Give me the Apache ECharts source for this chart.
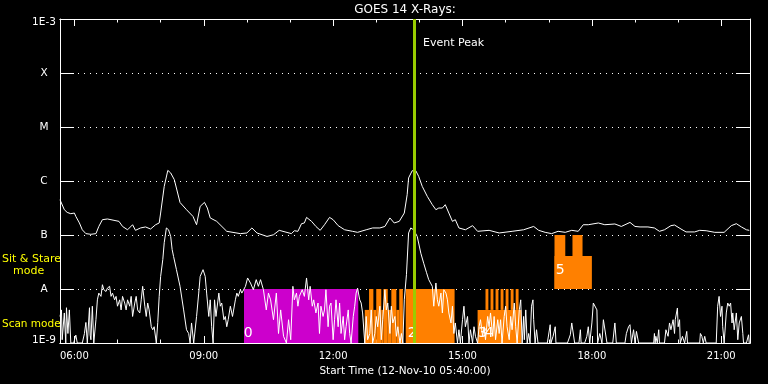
<!DOCTYPE html>
<html><head><meta charset="utf-8">
<script src="https://cdn.jsdelivr.net/npm/echarts@6.0.0/dist/echarts.min.js"></script>
<style>html,body{margin:0;padding:0;background:#000;}#c{width:768px;height:384px;}</style>
</head><body><div id="c"></div>
<script>
// Start of the plotted interval, clock minutes (05:40)
const startClock = 340;
const spanMinutes = 960;
const majorTickLabels = ['06:00','09:00','12:00','15:00','18:00','21:00'];
const yTickLabels = ['1E-9','A','B','C','M','X','1E-3'];
const eventPeakMinute = 492.5;

// GOES long channel (1-8 A): [minutes after start, W/m^2]
const longChannel = [[0,4.5e-7],[6,2.94e-7],[10,2.62e-7],[15,2.48e-7],[20,2.55e-7],[22,2.21e-7],[27,1.67e-7],[31,1.25e-7],[36,1.06e-7],[43,1.03e-7],[50,1.06e-7],[54,1.44e-7],[59,1.92e-7],[66,1.98e-7],[82,1.79e-7],[87,1.44e-7],[94,1.25e-7],[101,1.55e-7],[105,1.22e-7],[112,1.35e-7],[119,1.41e-7],[126,1.29e-7],[133,1.55e-7],[138,1.67e-7],[140,2.55e-7],[145,7.94e-7],[150,1.57e-6],[154,1.41e-6],[159,1.06e-6],[167,4.0e-7],[176,2.94e-7],[185,2.21e-7],[190,1.55e-7],[195,3.39e-7],[201,4.02e-7],[205,3.16e-7],[209,2.07e-7],[218,1.79e-7],[232,1.17e-7],[251,1.06e-7],[260,1.09e-7],[267,1.35e-7],[274,1.09e-7],[288,9.4e-8],[297,1.01e-7],[305,1.22e-7],[322,1.06e-7],[326,1.2e-7],[331,1.17e-7],[336,1.62e-7],[340,1.67e-7],[343,2.12e-7],[350,1.79e-7],[356,1.44e-7],[362,1.22e-7],[368,1.55e-7],[375,2.12e-7],[380,1.92e-7],[387,1.49e-7],[396,1.25e-7],[407,1.17e-7],[414,1.12e-7],[426,1.25e-7],[435,1.35e-7],[445,1.35e-7],[452,1.44e-7],[459,2.07e-7],[465,1.67e-7],[472,1.79e-7],[479,2.55e-7],[483,5.57e-7],[485,1.14e-6],[490,1.55e-6],[495,1.55e-6],[499,1.22e-6],[504,7.94e-7],[511,5.19e-7],[518,3.64e-7],[523,2.94e-7],[527,3.16e-7],[532,3.16e-7],[536,3.64e-7],[541,2.55e-7],[546,1.79e-7],[550,1.92e-7],[555,1.35e-7],[564,1.25e-7],[574,1.49e-7],[581,1.17e-7],[597,1.22e-7],[611,1.09e-7],[629,1.17e-7],[645,1.25e-7],[659,1.44e-7],[666,1.22e-7],[675,1.12e-7],[684,1.06e-7],[693,1.17e-7],[703,1.12e-7],[712,1.22e-7],[721,1.17e-7],[728,1.55e-7],[735,1.55e-7],[749,1.67e-7],[758,1.55e-7],[772,1.6e-7],[781,1.44e-7],[793,1.71e-7],[800,1.44e-7],[807,1.41e-7],[818,1.41e-7],[827,1.35e-7],[834,1.17e-7],[841,1.25e-7],[850,1.49e-7],[855,1.53e-7],[864,1.29e-7],[871,1.14e-7],[883,1.14e-7],[890,1.22e-7],[899,1.2e-7],[911,1.12e-7],[924,1.12e-7],[934,1.49e-7],[941,1.62e-7],[948,1.41e-7],[955,1.25e-7],[959,1.22e-7]];

// GOES short channel (0.5-4 A): [minutes after start, W/m^2]
const shortChannel = [[0,3.1e-9],[2,4.1e-9],[3,1.15e-9],[6,3.6e-9],[8,1e-9],[9,4.5e-9],[11,1.5e-9],[13,4.1e-9],[15,1e-9],[19,1e-9],[22,1.4e-9],[24,1e-9],[31,1e-9],[34,1.5e-9],[36,2.4e-9],[38,1e-9],[41,4.5e-9],[42,1.4e-9],[43,1.15e-9],[45,4.8e-9],[47,1e-9],[50,2.7e-9],[52,6.3e-9],[54,8.4e-9],[57,7.3e-9],[59,1.2e-8],[61,9.7e-9],[64,9.0e-9],[66,1.04e-8],[69,1.12e-8],[71,7.3e-9],[73,8.4e-9],[76,6.3e-9],[78,7.3e-9],[80,4.8e-9],[83,6.3e-9],[85,4.1e-9],[87,7.3e-9],[90,5.5e-9],[92,4.1e-9],[94,6.3e-9],[97,4.8e-9],[99,7.3e-9],[101,3.1e-9],[104,5.5e-9],[106,7.3e-9],[108,4.1e-9],[111,3.6e-9],[113,6.3e-9],[115,1.12e-8],[118,4.8e-9],[120,3.1e-9],[122,5.5e-9],[124,4.1e-9],[127,2.0e-9],[129,1.76e-9],[131,2.0e-9],[134,1e-9],[136,2.4e-9],[138,7.3e-9],[140,1.71e-8],[143,3.5e-8],[145,7.2e-8],[148,1.35e-7],[151,1.25e-7],[154,9.4e-8],[156,5.4e-8],[158,4.0e-8],[162,2.28e-8],[167,1.12e-8],[172,4.1e-9],[176,1.76e-9],[179,1.5e-9],[181,1e-9],[183,2.35e-9],[186,1e-9],[190,3.1e-9],[193,8.4e-9],[195,1.71e-8],[199,2.28e-8],[202,1.71e-8],[204,8.4e-9],[207,3.1e-9],[209,6.3e-9],[211,2.0e-9],[213,1e-9],[215,6.3e-9],[217,3.1e-9],[221,8.4e-9],[223,4.8e-9],[225,5.5e-9],[228,2.7e-9],[230,3.1e-9],[232,2.0e-9],[234,2.7e-9],[237,4.8e-9],[240,3.1e-9],[244,6.3e-9],[246,8.4e-9],[248,7.3e-9],[251,9.7e-9],[253,8.4e-9],[258,1.12e-8],[261,1.6e-8],[265,1.29e-8],[269,9.7e-9],[273,1.49e-8],[276,1.12e-8],[279,1.49e-8],[283,9.7e-9],[287,4.1e-9],[290,8.4e-9],[293,6.3e-9],[297,2.7e-9],[301,8.4e-9],[304,1.5e-9],[307,4.1e-9],[311,1.33e-9],[315,1e-9],[318,2.7e-9],[321,1.15e-9],[324,1.12e-8],[326,6.3e-9],[329,8.4e-9],[331,4.8e-9],[333,7.3e-9],[337,9.7e-9],[340,7.3e-9],[343,1.6e-8],[346,6.3e-9],[348,1.12e-8],[351,4.8e-9],[353,6.3e-9],[356,3.6e-9],[359,5.5e-9],[361,1.5e-9],[363,4.8e-9],[366,3.1e-9],[368,4.1e-9],[370,9.7e-9],[373,2.0e-9],[375,4.8e-9],[377,5.5e-9],[380,1.15e-9],[382,2.7e-9],[384,6.3e-9],[387,2.0e-9],[389,5.5e-9],[391,1.5e-9],[394,3.1e-9],[396,1.15e-9],[398,2.0e-9],[401,4.1e-9],[403,1.5e-9],[405,1e-9],[408,3.1e-9],[410,4.8e-9],[412,8.4e-9],[414,1.04e-8],[417,6.3e-9],[419,5.5e-9],[421,3.6e-9],[424,1e-9],[426,3.1e-9],[428,1.15e-9],[431,1.5e-9],[433,4.1e-9],[435,1e-9],[438,1.5e-9],[440,3.1e-9],[442,2.0e-9],[445,4.8e-9],[447,1.15e-9],[449,2.7e-9],[452,9.7e-9],[454,4.1e-9],[456,5.5e-9],[459,1.5e-9],[461,4.8e-9],[463,2.35e-9],[466,3.1e-9],[468,1.33e-9],[470,2.0e-9],[473,1e-9],[475,1.5e-9],[477,1e-9],[479,6.3e-9],[482,1.84e-8],[485,1.09e-7],[488,1.35e-7],[492,1.25e-7],[497,9.4e-8],[502,4.6e-8],[506,3.0e-8],[510,2.0e-8],[513,1.49e-8],[518,1.12e-8],[520,4.8e-9],[523,1.29e-8],[525,6.3e-9],[527,4.8e-9],[530,8.4e-9],[532,3.6e-9],[534,9.7e-9],[537,8.4e-9],[539,6.3e-9],[541,3.6e-9],[544,2.35e-9],[546,4.8e-9],[548,1.5e-9],[550,2.35e-9],[553,1e-9],[555,1.76e-9],[557,1e-9],[560,2.7e-9],[562,4.8e-9],[564,2.0e-9],[567,3.1e-9],[569,1e-9],[571,1.76e-9],[574,1e-9],[576,2.0e-9],[578,1.33e-9],[581,1e-9],[583,2.0e-9],[585,2.7e-9],[588,1.33e-9],[590,2.0e-9],[592,1.15e-9],[595,3.1e-9],[597,2.0e-9],[599,3.6e-9],[602,1.33e-9],[604,3.1e-9],[606,1.15e-9],[609,2.7e-9],[611,1.5e-9],[613,2.7e-9],[615,1e-9],[618,3.1e-9],[620,4.8e-9],[622,2.0e-9],[625,1.15e-9],[627,3.1e-9],[629,1.76e-9],[632,5.5e-9],[634,2.0e-9],[636,1e-9],[639,4.1e-9],[641,6.3e-9],[643,1e-9],[645,3.1e-9],[646,1.15e-9],[648,4.1e-9],[650,1e-9],[652,1.5e-9],[654,1e-9],[656,4.8e-9],[658,6.3e-9],[659,2.7e-9],[661,1e-9],[663,1.76e-9],[665,1e-9],[678,1e-9],[682,2.18e-9],[683,1e-9],[686,1.33e-9],[689,2.0e-9],[690,1e-9],[706,1e-9],[710,1.42e-9],[712,2.35e-9],[714,2.5e-9],[716,1e-9],[722,1e-9],[724,1.76e-9],[725,1e-9],[730,1e-9],[733,1.33e-9],[735,2.0e-9],[737,1e-9],[740,2.35e-9],[742,5.5e-9],[744,5.9e-9],[747,4.1e-9],[748,1e-9],[751,1.5e-9],[754,1e-9],[756,2.7e-9],[758,2.9e-9],[761,1e-9],[769,1e-9],[772,2.35e-9],[774,1e-9],[786,1e-9],[788,1.5e-9],[791,2.0e-9],[793,2.18e-9],[795,1e-9],[798,1.76e-9],[800,1e-9],[802,1.64e-9],[805,1e-9],[826,1e-9],[827,1.5e-9],[828,1e-9],[829,1.33e-9],[831,1e-9],[833,1.76e-9],[834,1e-9],[841,1e-9],[843,1.76e-9],[846,1.33e-9],[848,2.35e-9],[850,1.76e-9],[853,2.7e-9],[855,1.5e-9],[856,2.7e-9],[859,4.45e-9],[860,2.0e-9],[862,2.7e-9],[863,1e-9],[866,1.33e-9],[869,1e-9],[872,1.64e-9],[873,1e-9],[890,1e-9],[891,1.5e-9],[893,1.33e-9],[895,1e-9],[897,1.33e-9],[899,1e-9],[913,1e-9],[915,4.8e-9],[917,7.3e-9],[919,3.1e-9],[921,4.8e-9],[922,2.0e-9],[924,1e-9],[927,3.6e-9],[929,5.5e-9],[931,4.8e-9],[933,5.5e-9],[935,2.35e-9],[936,3.6e-9],[938,1.76e-9],[941,3.6e-9],[943,1.15e-9],[945,2.35e-9],[948,3.1e-9],[950,1.5e-9],[951,1e-9],[955,1e-9],[958,1.42e-9],[959,1e-9]];

// Observation windows: [start min, end min, low flux, high flux]
const scanWindows = [[256,415,1e-9,1e-8]];
const stareWindows = [
  [424,430,1e-9,4.1e-9],[430,436,1e-9,1e-8],[436,440,1e-9,4.1e-9],[440,447,1e-9,1e-8],
  [447,450,1e-9,4.1e-9],[450,456,1e-9,1e-8],[456,461,1e-9,4.1e-9],[461,468,1e-9,1e-8],
  [468,472,1e-9,4.1e-9],[472,477,1e-9,1e-8],[481,549,1e-9,1e-8],
  [581,642,1e-9,4.1e-9],[592,596,4.1e-9,1e-8],[599,603,4.1e-9,1e-8],[606,610,4.1e-9,1e-8],
  [613,617,4.1e-9,1e-8],[620,624,4.1e-9,1e-8],[627,631,4.1e-9,1e-8],[634,638,4.1e-9,1e-8],
  [688,740,1e-8,4.1e-8],[688,703,1e-8,1e-7],[713,727,1e-8,1e-7]
];
const windowLabelText = ['0','2','3','4','5'];
const windowLabelPos = [[262,1.49e-9],[490,1.49e-9],[588,1.49e-9],[597,1.49e-9],[696,2.18e-8]];

const FONT = 'DejaVu Sans';
const toMin = s => { const p = s.split(':'); return +p[0]*60 + +p[1] - startClock; };
const majorTicks = majorTickLabels.map(toMin);
const hourTicks = [];
for (let h = 6; h <= 21; h++) hourTicks.push(h*60 - startClock);
const fmtClock = v => { const m = Math.round(v + startClock); const hh = Math.floor(m/60), mm = m%60; return (hh<10?'0':'')+hh+':'+(mm<10?'0':'')+mm; };

const chart = echarts.init(document.getElementById('c'), null, {renderer:'canvas'});
const white = '#ffffff';
function xAx(pos, ticks, len, withLabel) {
  const a = {type:'value', min:0, max:spanMinutes, position:pos,
    axisLine:{show:true, onZero:false, lineStyle:{color:white,width:1}},
    axisTick:{show:true, inside:true, length:len, customValues:ticks, lineStyle:{color:white,width:1}},
    axisLabel:{show:false}, splitLine:{show:false}};
  if (withLabel) {
    a.axisLabel = {show:true, customValues:ticks, formatter:fmtClock, color:white, fontSize:10, fontFamily:FONT, margin:8};
    a.name = 'Start Time (12-Nov-10 05:40:00)';
    a.nameLocation = 'middle'; a.nameGap = 19;
    a.nameTextStyle = {color:white, fontSize:10.5, fontFamily:FONT};
  }
  return a;
}
function yAx(pos, withLabel) {
  return {type:'log', logBase:10, min:1e-9, max:1e-3, splitNumber:6, position:pos,
    axisLine:{show:true, onZero:false, lineStyle:{color:white,width:1}},
    axisTick:{show:true, inside:true, length:14, lineStyle:{color:white,width:1}},
    axisLabel: withLabel ? {show:true, showMinLabel:true, showMaxLabel:true, color:white, fontSize:10.5, fontFamily:FONT, align:'center', margin:16,
      formatter: v => { const e = Math.round(Math.log10(v)); const s = yTickLabels[e+9];
        if (e === -3) return '{lo|'+s+'}'; if (e === -9) return '{hi|'+s+'}'; return s; },
      rich:{lo:{padding:[7,0,0,0], color:white, fontSize:10.5, fontFamily:FONT}, hi:{padding:[0,0,6,0], color:white, fontSize:10.5, fontFamily:FONT}}} : {show:false},
    splitLine: withLabel ? {show:true, lineStyle:{color:white, width:1, type:[1,5]}} : {show:false}};
}
function rectItem(color) {
  return (params, api) => {
    const p0 = api.coord([api.value(0), api.value(3)]);
    const p1 = api.coord([api.value(1), api.value(2)]);
    return {type:'rect', shape:{x:p0[0], y:p0[1], width:p1[0]-p0[0], height:p1[1]-p0[1]}, style:{fill:color}};
  };
}
chart.setOption({
  backgroundColor:'#000000',
  animation:false,
  grid:{left:60, top:19, width:690, height:324, containLabel:false},
  xAxis:[xAx('bottom', majorTicks, 7, true), xAx('bottom', hourTicks, 3.5, false), xAx('top', majorTicks, 7, false), xAx('top', hourTicks, 3.5, false)],
  yAxis:[yAx('left', true), yAx('right', false)],
  series:[
    {type:'custom', renderItem:rectItem('#cc00cc'), data:scanWindows, encode:{x:[0,1], y:[2,3]}, z:1, silent:true, clip:true},
    {type:'custom', renderItem:rectItem('#ff8000'), data:stareWindows, encode:{x:[0,1], y:[2,3]}, z:1, silent:true, clip:true},
    {type:'line', data:shortChannel, showSymbol:false, symbol:'none', lineStyle:{color:white, width:1}, z:3, silent:true},
    {type:'line', data:longChannel, showSymbol:false, symbol:'none', lineStyle:{color:white, width:1}, z:3, silent:true,
      markLine:{silent:true, symbol:['none','none'], label:{show:false}, lineStyle:{color:'#99cc00', width:3, type:'solid'}, data:[{xAxis:eventPeakMinute}]}},
    {type:'custom', data:windowLabelPos, z:4, silent:true,
      renderItem:(params, api) => { const p = api.coord([api.value(0), api.value(1)]);
        return {type:'text', x:p[0], y:p[1], style:{text:windowLabelText[params.dataIndex], fill:white, font:'14px '+FONT, align:'center', verticalAlign:'middle'}}; }}
  ]
});
const peakX = chart.convertToPixel({xAxisIndex:0}, eventPeakMinute);
chart.setOption({graphic:[
  {type:'text', x:405, y:10, style:{text:'GOES 14 X-Rays:', fill:white, font:'12px '+FONT, align:'center', verticalAlign:'middle'}},
  {type:'text', x:peakX+9, y:43, style:{text:'Event Peak', fill:white, font:'11px '+FONT, align:'left', verticalAlign:'middle'}},
  {type:'text', x:2, y:259, style:{text:'Sit & Stare', fill:'#ffff00', font:'11px '+FONT, align:'left', verticalAlign:'middle'}},
  {type:'text', x:13, y:271, style:{text:'mode', fill:'#ffff00', font:'11px '+FONT, align:'left', verticalAlign:'middle'}},
  {type:'text', x:2, y:324, style:{text:'Scan mode', fill:'#ffff00', font:'10.5px '+FONT, align:'left', verticalAlign:'middle'}}
]});
</script></body></html>
